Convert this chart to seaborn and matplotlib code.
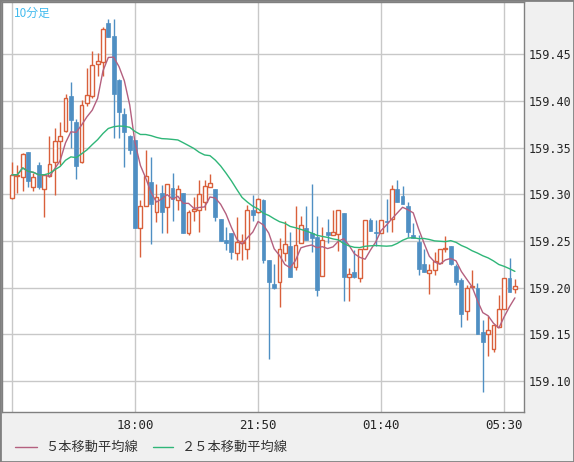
import numpy as np
import pandas as pd
import matplotlib
matplotlib.use("Agg")
import matplotlib.pyplot as plt
import seaborn as sns

# 10分足 OHLC
opens = [159.296, 159.320, 159.319, 159.345, 159.308, 159.332, 159.306, 159.320, 159.335, 159.357,
         159.368, 159.405, 159.378, 159.335, 159.398, 159.405, 159.440, 159.442, 159.484, 159.470,
         159.422, 159.386, 159.362, 159.358, 159.264, 159.288, 159.313, 159.281, 159.301, 159.286,
         159.307, 159.294, 159.301, 159.259, 159.282, 159.283, 159.292, 159.308, 159.306, 159.274,
         159.251, 159.259, 159.237, 159.248, 159.241, 159.283, 159.281, 159.294, 159.230, 159.204,
         159.206, 159.237, 159.245, 159.222, 159.248, 159.264, 159.259, 159.254, 159.213, 159.260,
         159.257, 159.258, 159.280, 159.212, 159.217, 159.210, 159.241, 159.273, 159.260, 159.259,
         159.272, 159.274, 159.306, 159.298, 159.288, 159.256, 159.249, 159.225, 159.216, 159.219,
         159.227, 159.242, 159.245, 159.223, 159.208, 159.175, 159.201, 159.200, 159.153, 159.150,
         159.134, 159.158, 159.177, 159.211, 159.199]
closes = [159.321, 159.321, 159.343, 159.314, 159.319, 159.308, 159.321, 159.333, 159.357, 159.362,
          159.403, 159.380, 159.330, 159.396, 159.406, 159.439, 159.443, 159.477, 159.468, 159.408,
          159.388, 159.367, 159.348, 159.264, 159.288, 159.320, 159.290, 159.297, 159.281, 159.311,
          159.295, 159.306, 159.259, 159.281, 159.284, 159.300, 159.309, 159.312, 159.276, 159.250,
          159.248, 159.238, 159.249, 159.250, 159.283, 159.278, 159.295, 159.230, 159.206, 159.200,
          159.242, 159.247, 159.212, 159.246, 159.267, 159.251, 159.253, 159.198, 159.251, 159.257,
          159.260, 159.283, 159.212, 159.215, 159.212, 159.241, 159.273, 159.261, 159.259, 159.273,
          159.270, 159.306, 159.292, 159.290, 159.260, 159.253, 159.220, 159.217, 159.219, 159.229,
          159.241, 159.243, 159.225, 159.206, 159.172, 159.200, 159.202, 159.151, 159.142, 159.155,
          159.160, 159.177, 159.211, 159.196, 159.202]
highs = [159.335, 159.332, 159.344, 159.345, 159.323, 159.335, 159.321, 159.362, 159.371, 159.377,
         159.408, 159.420, 159.381, 159.401, 159.435, 159.454, 159.451, 159.479, 159.488, 159.488,
         159.424, 159.392, 159.364, 159.358, 159.294, 159.347, 159.340, 159.311, 159.310, 159.311,
         159.323, 159.310, 159.302, 159.283, 159.297, 159.315, 159.315, 159.322, 159.306, 159.274,
         159.265, 159.259, 159.276, 159.258, 159.289, 159.299, 159.296, 159.295, 159.230, 159.226,
         159.253, 159.271, 159.260, 159.288, 159.277, 159.288, 159.311, 159.277, 159.265, 159.274,
         159.283, 159.283, 159.280, 159.221, 159.240, 159.241, 159.273, 159.275, 159.273, 159.273,
         159.295, 159.310, 159.315, 159.309, 159.292, 159.269, 159.256, 159.242, 159.226, 159.238,
         159.242, 159.255, 159.245, 159.226, 159.211, 159.203, 159.219, 159.205, 159.166, 159.170,
         159.160, 159.192, 159.211, 159.232, 159.209]
lows = [159.295, 159.302, 159.304, 159.308, 159.304, 159.306, 159.276, 159.319, 159.299, 159.331,
        159.367, 159.350, 159.316, 159.334, 159.395, 159.403, 159.427, 159.427, 159.468, 159.360,
        159.360, 159.329, 159.343, 159.264, 159.233, 159.288, 159.247, 159.270, 159.259, 159.259,
        159.272, 159.283, 159.259, 159.256, 159.271, 159.260, 159.283, 159.308, 159.271, 159.250,
        159.240, 159.231, 159.230, 159.230, 159.231, 159.271, 159.280, 159.227, 159.124, 159.199,
        159.179, 159.229, 159.212, 159.219, 159.248, 159.251, 159.238, 159.191, 159.213, 159.248,
        159.256, 159.239, 159.186, 159.186, 159.210, 159.206, 159.241, 159.261, 159.245, 159.259,
        159.260, 159.260, 159.292, 159.290, 159.254, 159.253, 159.214, 159.217, 159.193, 159.214,
        159.227, 159.238, 159.224, 159.203, 159.158, 159.166, 159.201, 159.151, 159.088, 159.127,
        159.131, 159.158, 159.177, 159.196, 159.194]
tick_pos = [23, 46, 69, 92]
tick_labels = ["18:00", "21:50", "01:40", "05:30"]
y_ticks = [159.10, 159.15, 159.20, 159.25, 159.30, 159.35, 159.40, 159.45]

UP = "#d9603b"
DOWN = "#4f8fc3"
MA5_C = "#b4607f"
MA25_C = "#2fb678"
JP = ["Noto Sans CJK JP", "DejaVu Sans"]

df = pd.DataFrame({"o": opens, "h": highs, "l": lows, "c": closes})
df["x"] = np.arange(len(df))
df["ma5"] = df["c"].rolling(5, min_periods=1).mean()
df["ma25"] = df["c"].rolling(25, min_periods=1).mean()

sns.set_style("white")
fig = plt.figure(figsize=(5.74, 4.62), dpi=100, facecolor="#f0f0f0")
ax = fig.add_axes([2 / 574, 1 - 412 / 462, 522 / 574, 410 / 462])
ax.set_facecolor("white")

# グリッド
for p in [0] + tick_pos:
    ax.axvline(p, color="#c8c8c8", lw=1, zorder=0)
for yv in y_ticks:
    ax.axhline(yv, color="#c8c8c8", lw=1, zorder=0)

up = df[df.c >= df.o]
dn = df[df.c < df.o]
w = 0.72
ax.vlines(up.x, up.l, up.h, color=UP, lw=1, zorder=2)
ax.vlines(dn.x, dn.l, dn.h, color=DOWN, lw=1, zorder=2)
ax.bar(up.x, (up.c - up.o).clip(lower=0.0008), bottom=up.o, width=w,
       facecolor="white", edgecolor=UP, lw=1, zorder=3)
ax.bar(dn.x, dn.o - dn.c, bottom=dn.c, width=w,
       facecolor=DOWN, edgecolor=DOWN, lw=0.5, zorder=3)

sns.lineplot(data=df, x="x", y="ma5", color=MA5_C, lw=1, ax=ax, zorder=4)
sns.lineplot(data=df, x="x", y="ma25", color=MA25_C, lw=1, ax=ax, zorder=4)

ax.set_xlim(-1.87, 95.7)
ax.set_ylim(159.067, 159.506)
ax.set_xticks(tick_pos)
ax.set_xticklabels(tick_labels, family="DejaVu Sans Mono", fontsize=9)
ax.set_yticks(y_ticks)
ax.set_yticklabels([f"{v:.2f}" for v in y_ticks], family="DejaVu Sans Mono", fontsize=8.5)
ax.yaxis.tick_right()
ax.tick_params(axis="y", length=0, pad=3)
ax.tick_params(axis="x", length=0, pad=5)
ax.set_xlabel("")
ax.set_ylabel("")
for s in ax.spines.values():
    s.set_color("#808080")
    s.set_linewidth(1)

ax.text(0.022, 0.988, "10分足", transform=ax.transAxes, ha="left", va="top",
        color="#44bbee", fontsize=8.5, family=JP)

# 凡例
ly = 1 - 447 / 462
fig.add_artist(plt.Line2D([15 / 574, 37 / 574], [ly] * 2, color=MA5_C, lw=1))
fig.add_artist(plt.Line2D([153 / 574, 173 / 574], [ly] * 2, color=MA25_C, lw=1))
fig.text(45 / 574, ly, "５本移動平均線", va="center", fontsize=9.5, family=JP, color="#333333")
fig.text(182 / 574, ly, "２５本移動平均線", va="center", fontsize=9.5, family=JP, color="#333333")

fig.patches.append(plt.Rectangle((0, 0), 1, 1, transform=fig.transFigure, fill=False,
                                 edgecolor="#808080", lw=2))
fig.savefig("out.png", dpi=100, facecolor=fig.get_facecolor())
